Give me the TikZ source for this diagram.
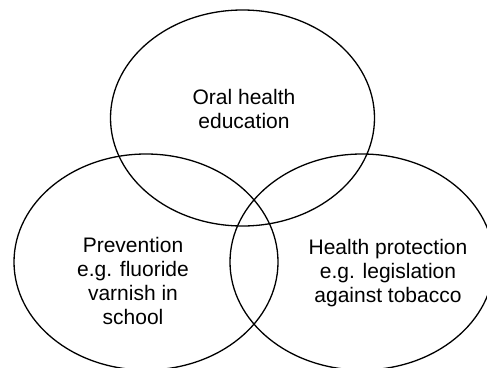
\documentclass[tikz,border=0pt]{standalone}
\usepackage{fontspec}
\setmainfont{Liberation Sans}
\usetikzlibrary{shapes.geometric}
\begin{document}
\begin{tikzpicture}[x=1pt,y=-1pt,
  circlebox/.style={draw=black, line width=1.3pt, ellipse, inner sep=0pt,
    minimum width=264pt, minimum height=216pt},
  label/.style={align=center, font=\fontsize{21}{24}\selectfont, inner sep=0pt}]
  \useasboundingbox (0,0) rectangle (487,367);
  \clip (0,0) rectangle (487,367);
  % the three overlapping areas of oral health promotion
  \node[circlebox] (edu)  at (242.5,118) {};
  \node[circlebox] (prev) at (146,262) {};
  \node[circlebox] (prot) at (362,262) {};
  % their captions
  \node[label] (edutext)  at (244,109) {Oral health\\education};
  \node[label] (prevtext) at (133,281) {Prevention\\e.g. fluoride\\varnish in\\school};
  \node[label] (prottext) at (388,273) {Health protection\\e.g. legislation\\against tobacco};
\end{tikzpicture}
\end{document}
